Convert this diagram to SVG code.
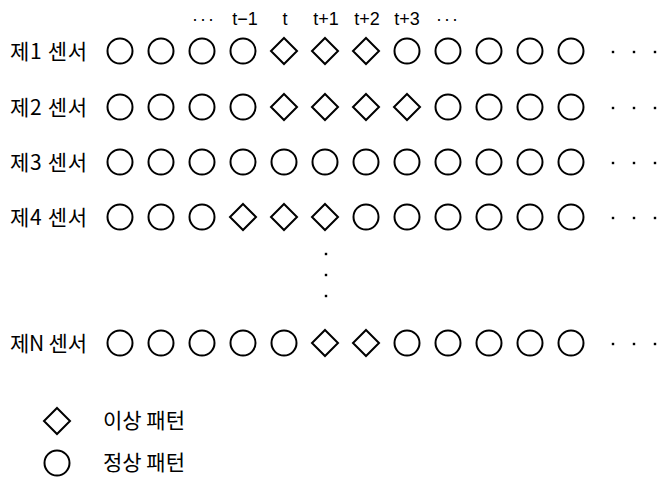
<svg xmlns="http://www.w3.org/2000/svg" width="659" height="483" viewBox="0 0 659 483">
<style>
.c{fill:none;stroke:#000;stroke-width:2}
.d{fill:none;stroke:#000;stroke-width:2;stroke-linejoin:miter}
.lbl{font-family:"Noto Sans CJK KR","Liberation Sans",sans-serif;font-size:21px;fill:#000}
.top{font-family:"Liberation Sans","DejaVu Sans",sans-serif;font-size:18px;fill:#000;text-anchor:middle}
.dot{fill:#000}
</style>
<defs>
<circle id="C" r="12.5" class="c"/>
<path id="D" d="M0,-13 L13,0 L0,13 L-13,0 Z" class="d"/>
<rect id="P" x="-1.2" y="-1.2" width="2.4" height="2.4" class="dot"/>
</defs>
<g id="time-labels">
<text class="top" x="204" y="25" letter-spacing="2">···</text>
<text class="top" x="245" y="25">t−1</text>
<text class="top" x="285" y="25">t</text>
<text class="top" x="326" y="25">t+1</text>
<text class="top" x="367" y="25">t+2</text>
<text class="top" x="407" y="25">t+3</text>
<text class="top" x="448" y="25" letter-spacing="2">···</text>
</g>
<g id="sensor1">
<text class="lbl" x="10" y="59" textLength="77">제1 센서</text>
<use href="#C" x="120" y="51"/><use href="#C" x="161" y="51"/><use href="#C" x="202" y="51"/><use href="#C" x="243" y="51"/>
<use href="#D" x="284" y="51"/><use href="#D" x="325" y="51"/><use href="#D" x="366" y="51"/>
<use href="#C" x="407" y="51"/><use href="#C" x="448" y="51"/><use href="#C" x="489" y="51"/><use href="#C" x="530" y="51"/><use href="#C" x="571" y="51"/>
<use href="#P" x="613" y="52"/><use href="#P" x="634" y="52"/><use href="#P" x="655" y="52"/>
</g>
<g id="sensor2">
<text class="lbl" x="10" y="115" textLength="77">제2 센서</text>
<use href="#C" x="120" y="107"/><use href="#C" x="161" y="107"/><use href="#C" x="202" y="107"/><use href="#C" x="243" y="107"/>
<use href="#D" x="284" y="107"/><use href="#D" x="325" y="107"/><use href="#D" x="366" y="107"/><use href="#D" x="407" y="107"/>
<use href="#C" x="448" y="107"/><use href="#C" x="489" y="107"/><use href="#C" x="530" y="107"/><use href="#C" x="571" y="107"/>
<use href="#P" x="613" y="108"/><use href="#P" x="634" y="108"/><use href="#P" x="655" y="108"/>
</g>
<g id="sensor3">
<text class="lbl" x="10" y="170" textLength="77">제3 센서</text>
<use href="#C" x="120" y="162"/><use href="#C" x="161" y="162"/><use href="#C" x="202" y="162"/><use href="#C" x="243" y="162"/>
<use href="#C" x="284" y="162"/><use href="#C" x="325" y="162"/><use href="#C" x="366" y="162"/><use href="#C" x="407" y="162"/>
<use href="#C" x="448" y="162"/><use href="#C" x="489" y="162"/><use href="#C" x="530" y="162"/><use href="#C" x="571" y="162"/>
<use href="#P" x="613" y="163"/><use href="#P" x="634" y="163"/><use href="#P" x="655" y="163"/>
</g>
<g id="sensor4">
<text class="lbl" x="10" y="225" textLength="77">제4 센서</text>
<use href="#C" x="120" y="217"/><use href="#C" x="161" y="217"/><use href="#C" x="202" y="217"/>
<use href="#D" x="243" y="217"/><use href="#D" x="284" y="217"/><use href="#D" x="325" y="217"/>
<use href="#C" x="366" y="217"/><use href="#C" x="407" y="217"/><use href="#C" x="448" y="217"/><use href="#C" x="489" y="217"/><use href="#C" x="530" y="217"/><use href="#C" x="571" y="217"/>
<use href="#P" x="613" y="218"/><use href="#P" x="634" y="218"/><use href="#P" x="655" y="218"/>
</g>
<g id="vdots">
<use href="#P" x="326" y="254"/><use href="#P" x="326" y="275"/><use href="#P" x="326" y="296"/>
</g>
<g id="sensorN">
<text class="lbl" x="10" y="351" textLength="77">제N 센서</text>
<use href="#C" x="120" y="343"/><use href="#C" x="161" y="343"/><use href="#C" x="202" y="343"/><use href="#C" x="243" y="343"/><use href="#C" x="284" y="343"/>
<use href="#D" x="325" y="343"/><use href="#D" x="366" y="343"/>
<use href="#C" x="407" y="343"/><use href="#C" x="448" y="343"/><use href="#C" x="489" y="343"/><use href="#C" x="530" y="343"/><use href="#C" x="571" y="343"/>
<use href="#P" x="613" y="344"/><use href="#P" x="634" y="344"/><use href="#P" x="655" y="344"/>
</g>
<g id="legend-abnormal">
<use href="#D" x="57" y="421"/>
<text class="lbl" x="103" y="428">이상 패턴</text>
</g>
<g id="legend-normal">
<use href="#C" x="57" y="463"/>
<text class="lbl" x="103" y="470">정상 패턴</text>
</g>
</svg>
